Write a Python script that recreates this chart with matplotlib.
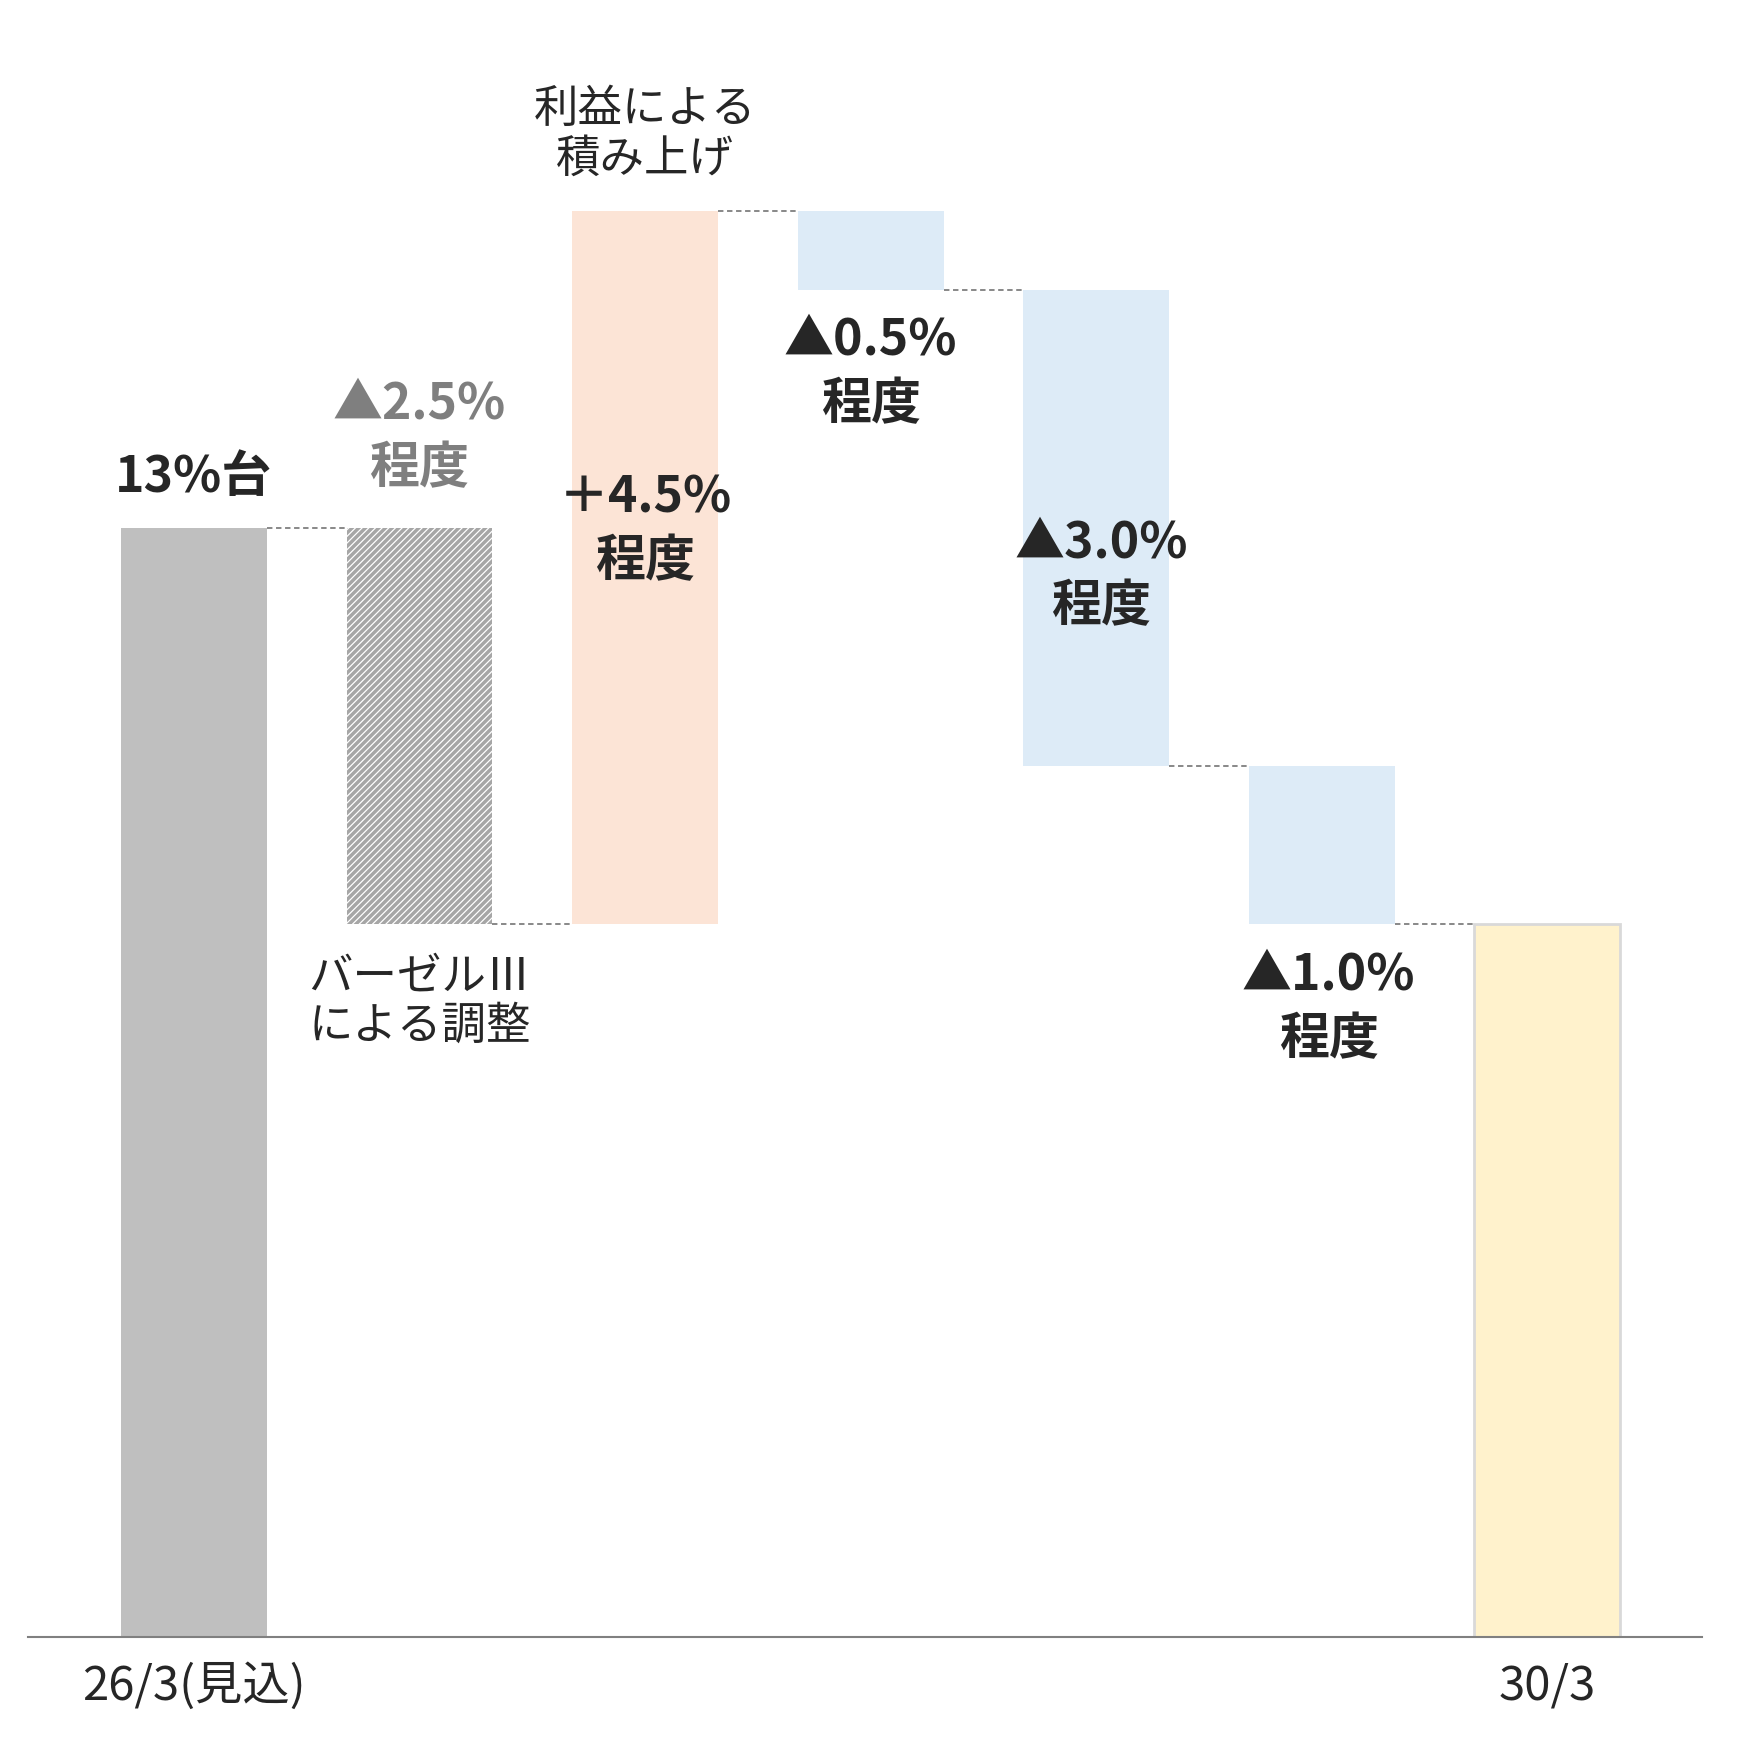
import matplotlib
matplotlib.use("Agg")
import matplotlib.pyplot as plt

plt.rcParams['font.family'] = ['Noto Sans CJK JP', 'DejaVu Sans']
plt.rcParams['hatch.linewidth'] = 2.5

# data (illustrative scale, axis starts at 6.5)
categories = ["26/3(見込)", "", "", "", "", "", "30/3"]
start_value = 13.5
deltas = [-2.5, 4.5, -0.5, -3.0, -1.0]
y_floor = 6.5

dark = '#262626'
fig = plt.figure(figsize=(17.46, 17.62), dpi=100)
ax = fig.add_axes([0.016, 0.071, 0.959, 0.929])

# waterfall levels
levels = [start_value]
for d in deltas:
    levels.append(levels[-1] + d)
end_value = levels[-1]

w = 0.647
ax.bar(0, start_value - y_floor, bottom=y_floor, width=w, color='#bfbfbf')
styles = [dict(color='white', edgecolor='#a6a6a6', hatch='/////', linewidth=0),
          dict(color='#fce4d6'), dict(color='#ddebf7'),
          dict(color='#ddebf7'), dict(color='#ddebf7')]
for i, d in enumerate(deltas):
    lo = min(levels[i], levels[i + 1])
    ax.bar(i + 1, abs(d), bottom=lo, width=w, **styles[i])
ax.bar(6, end_value - y_floor, bottom=y_floor, width=w, color='#fff2cc',
       edgecolor='#d9d9d9', linewidth=2)

# dashed connectors between bars
for i in range(6):
    ax.plot([i + w / 2, i + 1 - w / 2], [levels[i]] * 2,
            ls=(0, (3, 2)), color='#7f7f7f', lw=1.3)

def yv(py):
    return y_floor + (1457 - py) / 141

bold = dict(ha='center', va='center', fontsize=36, fontweight='bold', color=dark)
ax.text(0, yv(425), "13%台", **bold)
ax.text(1, yv(360), "▲2.5%", **{**bold, 'color': '#7f7f7f'})
ax.text(1, yv(417), "程度", **{**bold, 'color': '#7f7f7f'})
ax.text(1, yv(891), "バーゼルⅢ\nによる調整", ha='center', va='center', fontsize=32, color=dark,
        linespacing=1.1)
ax.text(2, yv(119), "利益による\n積み上げ", ha='center', va='center', fontsize=32, color=dark,
        linespacing=1.1)
ax.text(2, yv(443), "＋4.5%", **bold)
ax.text(2, yv(500), "程度", **bold)
ax.text(3, yv(303), "▲0.5%", **bold)
ax.text(3, yv(360), "程度", **bold)
ax.text(4.02, yv(483), "▲3.0%", **bold)
ax.text(4.02, yv(540), "程度", **bold)
ax.text(5.03, yv(868), "▲1.0%", **bold)
ax.text(5.03, yv(925), "程度", **bold)

ax.set_xlim(-0.736, 6.687)
ax.set_ylim(y_floor, yv(0))
ax.set_xticks(range(7))
ax.set_xticklabels(categories, fontsize=34, color=dark)
ax.tick_params(axis='x', length=0, pad=18)
ax.set_yticks([])
for s in ['top', 'right', 'left']:
    ax.spines[s].set_visible(False)
ax.spines['bottom'].set_color('#808080')
ax.spines['bottom'].set_linewidth(1.5)

fig.savefig("out.png", dpi=100)
